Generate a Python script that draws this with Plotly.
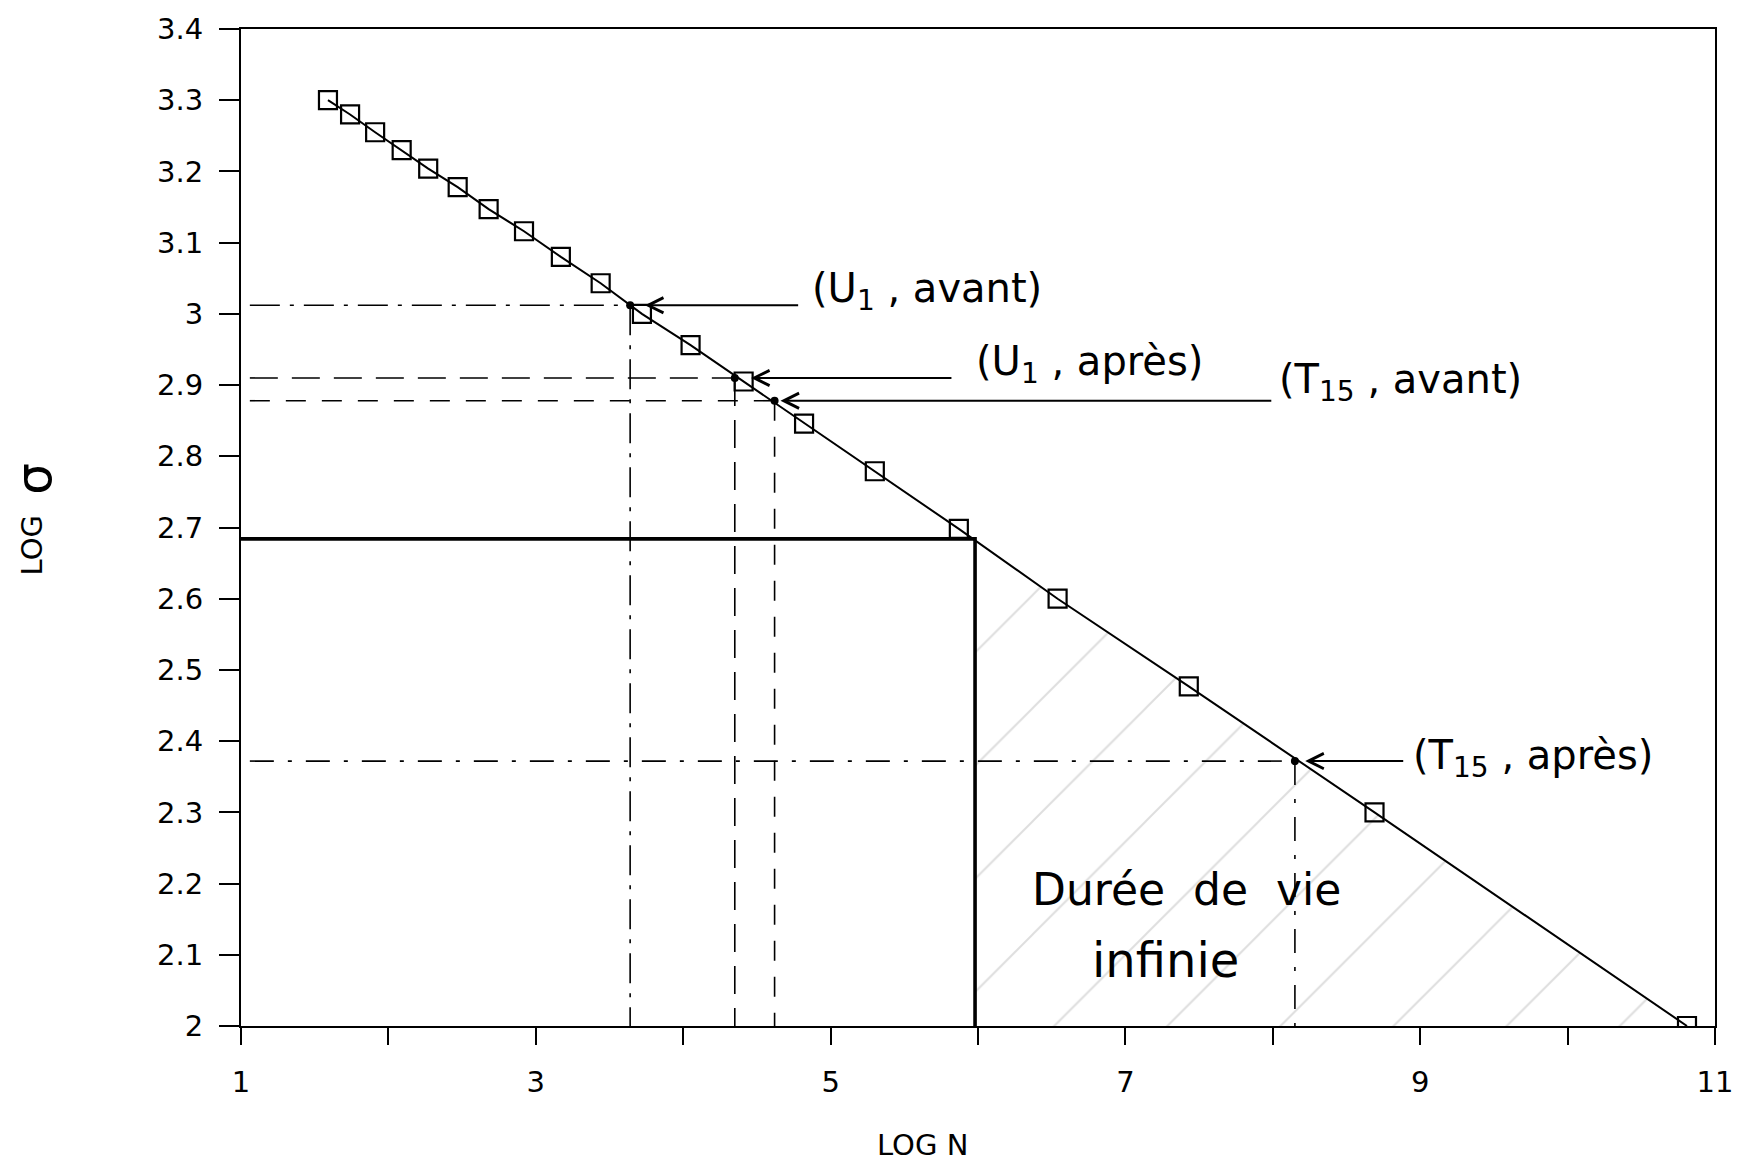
import plotly.graph_objects as go

# ---- data ----
log_N = [1.59, 1.74, 1.91, 2.09, 2.27, 2.47, 2.68, 2.92, 3.17, 3.44,
         3.72, 4.05, 4.41, 4.82, 5.30, 5.87, 6.54, 7.43, 8.69, 10.81]
log_sigma = [3.30, 3.28, 3.255, 3.23, 3.204, 3.178, 3.147, 3.116, 3.08, 3.043,
             3.0, 2.956, 2.905, 2.846, 2.779, 2.698, 2.60, 2.477, 2.30, 2.0]

mark_labels = ["(U<sub>1</sub> , avant)", "(U<sub>1</sub> , après)",
               "(T<sub>15</sub> , avant)", "(T<sub>15</sub> , après)"]
mark_logN = [3.64, 4.35, 4.62, 8.15]
mark_logS = [3.012, 2.910, 2.878, 2.372]

endurance_logN = 5.98
endurance_logS = 2.684

x_tickvals = [1, 2, 3, 4, 5, 6, 7, 8, 9, 10, 11]
x_ticktext = ["1", "", "3", "", "5", "", "7", "", "9", "", "11"]
y_tickvals = [2.0, 2.1, 2.2, 2.3, 2.4, 2.5, 2.6, 2.7, 2.8, 2.9,
              3.0, 3.1, 3.2, 3.3, 3.4]
y_ticktext = ["2", "2.1", "2.2", "2.3", "2.4", "2.5", "2.6", "2.7", "2.8", "2.9",
              "3", "3.1", "3.2", "3.3", "3.4"]

x_min, x_max = x_tickvals[0], x_tickvals[-1]
y_min, y_max = y_tickvals[0], y_tickvals[-1]

# ---- styles ----
mark_dash = ["30px,10px,4px,10px", "28px,14px", "20px,16px", "24px,14px,4px,14px"]
hand_font = dict(family="DejaVu Sans, sans-serif", size=40, color="black")
big_hand_font = dict(family="DejaVu Sans, sans-serif", size=44, color="black")
axis_font = dict(family="DejaVu Sans, sans-serif", size=29, color="black")

fig = go.Figure()

# hatched "infinite life" region
hx = [endurance_logN] + [n for n in log_N if n > endurance_logN] + [endurance_logN]
hy = [endurance_logS] + [s for n, s in zip(log_N, log_sigma) if n > endurance_logN] + [y_min]
fig.add_trace(go.Scatter(
    x=hx, y=hy, mode="none", fill="toself", fillcolor="rgba(0,0,0,0)",
    fillpattern=dict(shape="/", fgcolor="#bdbdbd", bgcolor="rgba(0,0,0,0)",
                     size=80, solidity=0.025, fillmode="overlay"),
    hoverinfo="skip", showlegend=False))

# reference lines for the marked points
for i in range(len(mark_logN)):
    fig.add_trace(go.Scatter(
        x=[x_min + 0.06, mark_logN[i]], y=[mark_logS[i], mark_logS[i]], mode="lines",
        line=dict(color="black", width=1.6, dash=mark_dash[i]), showlegend=False))
    fig.add_trace(go.Scatter(
        x=[mark_logN[i], mark_logN[i]], y=[mark_logS[i], y_min], mode="lines",
        line=dict(color="black", width=1.6, dash=mark_dash[i]), showlegend=False))

# endurance limit (thick solid)
fig.add_trace(go.Scatter(
    x=[x_min, endurance_logN, endurance_logN], y=[endurance_logS, endurance_logS, y_min],
    mode="lines", line=dict(color="black", width=3.6), showlegend=False))

# S-N curve
fig.add_trace(go.Scatter(
    x=log_N, y=log_sigma, mode="lines+markers",
    line=dict(color="black", width=2),
    marker=dict(symbol="square-open", size=18, color="black", line=dict(width=2.2)),
    showlegend=False))

# marked points
fig.add_trace(go.Scatter(
    x=mark_logN, y=mark_logS, mode="markers",
    marker=dict(symbol="circle", size=8, color="black"), showlegend=False))

# arrows + hand-written labels
arrow_heads = [0.10, 0.11, 0.04, 0.07]
arrow_tails = [4.79, 5.83, 8.0, 8.895]
label_x = [4.86, 5.97, 8.03, 8.94]
label_y = [3.032, 2.930, 2.904, 2.376]
annotations = []
for i in range(len(mark_logN)):
    annotations.append(dict(
        x=mark_logN[i] + arrow_heads[i], y=mark_logS[i], xref="x", yref="y",
        ax=arrow_tails[i], ay=mark_logS[i], axref="x", ayref="y",
        text="", showarrow=True, arrowhead=5, arrowsize=1.5, arrowwidth=2, arrowcolor="black"))
    annotations.append(dict(
        x=label_x[i], y=label_y[i], xref="x", yref="y", xanchor="left", yanchor="middle",
        text=mark_labels[i], showarrow=False, font=hand_font))

annotations.append(dict(x=6.35, y=2.192, xref="x", yref="y", xanchor="left", yanchor="middle",
                        text="Durée&nbsp; de&nbsp; vie", showarrow=False, font=big_hand_font))
annotations.append(dict(x=6.76, y=2.092, xref="x", yref="y", xanchor="left", yanchor="middle",
                        text="infinie", showarrow=False,
                        font=dict(family="DejaVu Sans, sans-serif", size=48, color="black")))

# axis titles
annotations.append(dict(x=(926 - 241) / 1481, y=(1026 - 1146) / 1002,
                        xref="paper", yref="paper", xanchor="center", yanchor="middle",
                        text="LOG N", showarrow=False, font=axis_font))
annotations.append(dict(
    x=(31 - 241) / 1481, y=(1026 - 543) / 1002, xref="paper", yref="paper",
    xanchor="center", yanchor="middle", text="LOG",
    textangle=-90, showarrow=False, font=axis_font))
annotations.append(dict(
    x=(33 - 241) / 1481, y=(1026 - 476) / 1002, xref="paper", yref="paper",
    xanchor="center", yanchor="middle", text="σ",
    textangle=-90, showarrow=False,
    font=dict(family="DejaVu Sans, sans-serif", size=50, color="black")))

fig.update_layout(
    width=1745, height=1175,
    margin=dict(l=241, r=23, t=24, b=149),
    paper_bgcolor="white", plot_bgcolor="white",
    annotations=annotations,
    showlegend=False,
)
fig.update_xaxes(
    range=[x_min, x_max], tickvals=x_tickvals, ticktext=x_ticktext,
    showgrid=False, zeroline=False, showline=True, linecolor="black", linewidth=2,
    mirror=True, ticks="outside", ticklen=17, tickwidth=2, tickcolor="black",
    tickfont=axis_font, ticklabelstandoff=12)
fig.update_yaxes(
    range=[y_min, y_max], tickvals=y_tickvals, ticktext=y_ticktext,
    showgrid=False, zeroline=False, showline=True, linecolor="black", linewidth=2,
    mirror=True, ticks="outside", ticklen=20, tickwidth=2, tickcolor="black",
    tickfont=axis_font, ticklabelstandoff=10)

fig.write_html("out.html")
